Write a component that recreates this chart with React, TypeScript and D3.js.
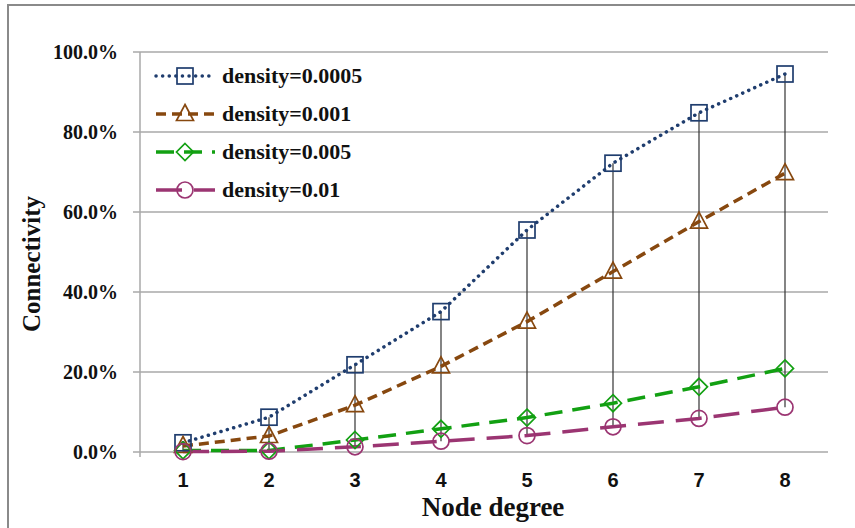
import React from "react";
import * as d3 from "d3";

const categories = ["1", "2", "3", "4", "5", "6", "7", "8"];
const seriesNames = ["density=0.0005", "density=0.001", "density=0.005", "density=0.01"];
const d0005 = [2.3, 8.7, 21.8, 35.1, 55.5, 72.2, 84.8, 94.5];
const d001 = [1.5, 4.0, 11.7, 21.4, 32.6, 45.1, 57.6, 69.7];
const d005 = [0.4, 0.4, 3.0, 5.8, 8.6, 12.2, 16.3, 20.9];
const d01 = [0.1, 0.2, 1.3, 2.7, 4.1, 6.3, 8.4, 11.2];
const yTicks = [0, 20, 40, 60, 80, 100];

const seriesValues = [d0005, d001, d005, d01];
const styles = [
  { color: "#1f3d6e", dash: "0.1 6.5", width: 3.5, cap: "round", marker: "square" },
  { color: "#87480f", dash: "10 6", width: 3.5, cap: "butt", marker: "triangle" },
  { color: "#12a012", dash: "18 10", width: 3.5, cap: "butt", marker: "diamond" },
  { color: "#9b3572", dash: "26 12", width: 3.5, cap: "butt", marker: "circle" },
];

const W = 855, H = 528;
const left = 140, right = 828, top = 52, bottom = 452;

function Marker({ type, x, y, color }: { type: string; x: number; y: number; color: string }) {
  const sw = 1.7;
  if (type === "square") return <rect x={x - 8} y={y - 8} width={16} height={16} fill="none" stroke={color} strokeWidth={sw} />;
  if (type === "triangle") {
    const p = `${x},${y - 9.5} ${x + 8.5},${y + 6.5} ${x - 8.5},${y + 6.5}`;
    return <polygon points={p} fill="none" stroke={color} strokeWidth={sw} />;
  }
  if (type === "diamond") {
    const p = `${x},${y - 8.5} ${x + 8.5},${y} ${x},${y + 8.5} ${x - 8.5},${y}`;
    return <polygon points={p} fill="none" stroke={color} strokeWidth={sw} />;
  }
  return <circle cx={x} cy={y} r={8} fill="none" stroke={color} strokeWidth={sw} />;
}

export default function App() {
  const x = d3.scaleBand().domain(categories).range([left, right]);
  const y = d3.scaleLinear().domain([0, 100]).range([bottom, top]);
  const cx = (c: string) => (x(c) as number) + x.bandwidth() / 2;
  const line = d3.line<number>().x((_, i) => cx(categories[i])).y((v) => y(v));
  const serif = "'Liberation Serif', 'Times New Roman', serif";
  const sans = "'Liberation Sans', Arial, sans-serif";
  const legendY = [76, 114, 152, 190];

  return (
    <svg width={W} height={H} style={{ position: "absolute", left: 0, top: 0, background: "#fff" }}>
      <rect x={8} y={5} width={W + 20} height={H + 20} fill="#fff" stroke="#8a8a8a" strokeWidth={2} />
      {yTicks.map((t) => (
        <g key={t}>
          <line x1={left - 7} x2={right} y1={y(t)} y2={y(t)} stroke="#a8a8a8" strokeWidth={1.5} />
          <text x={118} y={y(t)} dy="0.35em" textAnchor="end" fontFamily={serif} fontWeight="bold" fontSize={20} fill="#111">
            {t.toFixed(1) + "%"}
          </text>
        </g>
      ))}
      <line x1={left} x2={left} y1={top} y2={bottom + 5} stroke="#a8a8a8" strokeWidth={1.5} />
      {categories.map((c) => (
        <text key={c} x={cx(c)} y={487} textAnchor="middle" fontFamily={sans} fontWeight="bold" fontSize={20} fill="#111">
          {c}
        </text>
      ))}
      {categories.map((c, i) => {
        const vals = seriesValues.map((s) => s[i]);
        return (
          <line key={"hl" + c} x1={cx(c)} x2={cx(c)} y1={y(d3.max(vals) as number)} y2={y(d3.min(vals) as number)} stroke="#333" strokeWidth={1.2} />
        );
      })}
      {seriesValues.map((s, si) => (
        <path key={"l" + si} d={line(s) as string} fill="none" stroke={styles[si].color} strokeWidth={styles[si].width}
          strokeDasharray={styles[si].dash} strokeLinecap={styles[si].cap as any} />
      ))}
      {seriesValues.map((s, si) =>
        s.map((v, i) => <Marker key={"m" + si + "-" + i} type={styles[si].marker} x={cx(categories[i])} y={y(v)} color={styles[si].color} />)
      )}
      {seriesNames.map((n, si) => (
        <g key={n}>
          <line x1={156} x2={215} y1={legendY[si]} y2={legendY[si]} stroke={styles[si].color} strokeWidth={styles[si].width}
            strokeDasharray={styles[si].dash} strokeLinecap={styles[si].cap as any} />
          <Marker type={styles[si].marker} x={185} y={legendY[si]} color={styles[si].color} />
          <text x={222} y={legendY[si]} dy="0.33em" fontFamily={serif} fontWeight="bold" fontSize={22} fill="#111">{n}</text>
        </g>
      ))}
      <text x={493} y={516} textAnchor="middle" fontFamily={serif} fontWeight="bold" fontSize={27} fill="#111">Node degree</text>
      <text transform={`translate(40,264) rotate(-90)`} textAnchor="middle" fontFamily={serif} fontWeight="bold" fontSize={25} fill="#111">Connectivity</text>
    </svg>
  );
}
